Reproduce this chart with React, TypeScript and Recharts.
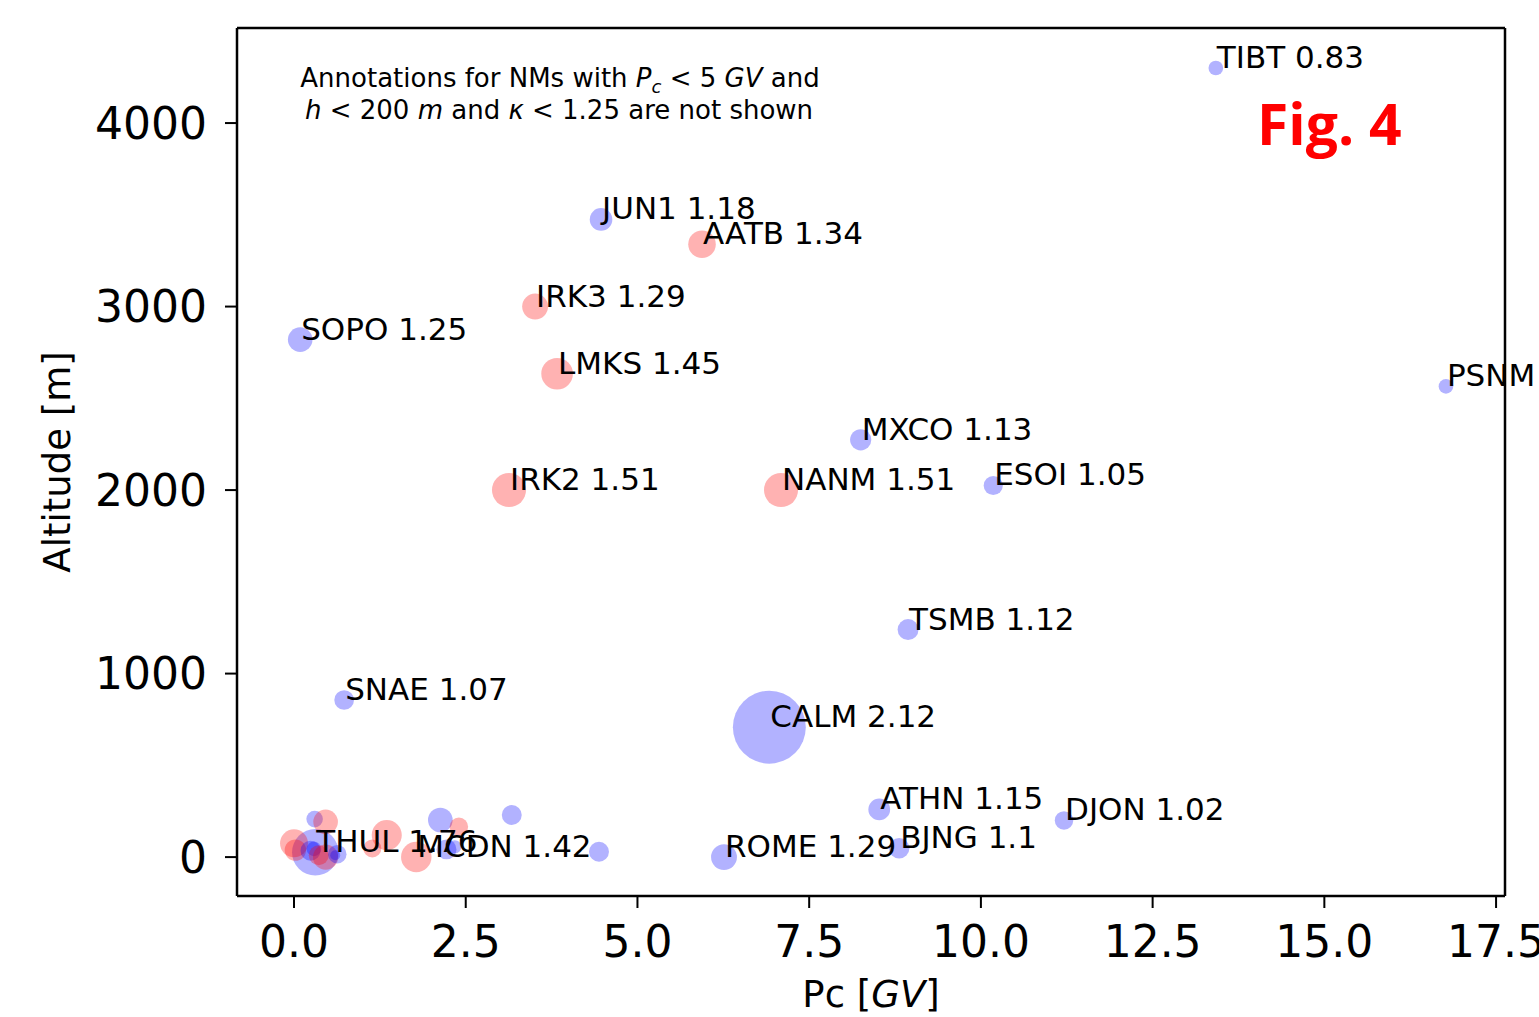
import React from "react";
import { ScatterChart, Scatter, XAxis, YAxis, ReferenceLine, Customized } from "recharts";

// Labelled neutron monitors: Pc [GV], altitude [m], kappa, marker group
const NAMES = ["TIBT", "JUN1", "AATB", "IRK3", "SOPO", "LMKS", "PSNM", "MXCO", "IRK2", "NANM",
  "ESOI", "TSMB", "SNAE", "CALM", "ATHN", "DJON", "ROME", "BJNG", "MCDN", "THUL"];
const PC = [13.42, 4.47, 5.94, 3.51, 0.09, 3.83, 16.77, 8.25, 3.13, 7.09,
  10.18, 8.94, 0.73, 6.92, 8.52, 11.21, 6.26, 8.81, 1.78, 0.31];
const ALT = [4300, 3475, 3340, 3000, 2820, 2634, 2565, 2274, 2000, 2000,
  2025, 1240, 856, 708, 260, 200, 0, 48, 0, 26];
const KAPPA = [0.83, 1.18, 1.34, 1.29, 1.25, 1.45, 0.83, 1.13, 1.51, 1.51,
  1.05, 1.12, 1.07, 2.12, 1.15, 1.02, 1.29, 1.1, 1.42, 1.76];
const GROUP = ["b", "b", "r", "r", "b", "r", "b", "b", "r", "r",
  "b", "b", "b", "b", "b", "b", "b", "b", "r", "b"];

// Un-annotated stations (low Pc / low altitude cluster)
const C_PC = [0.30, 0.46, 0.0, 0.02, 0.29, 0.24, 0.46, 0.36, 0.63, 0.60,
  1.14, 1.35, 2.13, 2.40, 2.22, 2.34, 3.17, 4.44];
const C_ALT = [207, 192, 75, 38, 45, 35, 0, 10, 16, 10,
  47, 120, 202, 165, 42, 56, 229, 29];
const C_KAPPA = [0.93, 1.25, 1.35, 1.14, 0.83, 1.08, 1.27, 1.08, 1.02, 0.53,
  1.0, 1.41, 1.25, 1.02, 1.08, 0.76, 1.08, 1.08];
const C_GROUP = ["b", "r", "r", "r", "b", "b", "r", "r", "b", "b",
  "r", "r", "b", "r", "b", "b", "b", "b"];

const X_TICKS = [0, 2.5, 5, 7.5, 10, 12.5, 15, 17.5];
const Y_TICKS = [0, 1000, 2000, 3000, 4000];
const X_DOMAIN = [-0.83, 17.63];
const Y_DOMAIN = [-212, 4518];

const FILL: Record<string, string> = { b: "#0000ff", r: "#ff0000" };
const FONT = "'DejaVu Sans', sans-serif";

// marker radius grows with kappa
const radius = (k: number) => 7.3 * Math.exp(1.247 * (k - 0.83));

interface Row {
  name?: string;
  pc: number;
  alt: number;
  kappa: number;
  group: string;
}

const labelled: Row[] = NAMES.map((name, i) => ({
  name, pc: PC[i], alt: ALT[i], kappa: KAPPA[i], group: GROUP[i],
}));
const cluster: Row[] = C_PC.map((pc, i) => ({
  pc, alt: C_ALT[i], kappa: C_KAPPA[i], group: C_GROUP[i],
}));
const allPoints = [...labelled, ...cluster];

const Dot = (props: any) => {
  const { cx, cy, payload } = props;
  return (
    <circle cx={cx} cy={cy} r={radius(payload.kappa)}
      fill={FILL[payload.group]} fillOpacity={0.3} stroke="none" />
  );
};

const NameLabel = (props: any) => {
  const { cx, cy, payload } = props;
  return (
    <text x={cx + 1} y={cy} fontSize={31} fontFamily={FONT} fill="#000">
      {`${payload.name} ${payload.kappa}`}
    </text>
  );
};

const Annotations = () => (
  <g fontFamily={FONT} fill="#000">
    <text x={560} y={87} fontSize={26} textAnchor="middle">
      Annotations for NMs with{" "}
      <tspan fontStyle="italic">P</tspan>
      <tspan fontStyle="italic" fontSize={18} dy={6}>c</tspan>
      <tspan dy={-6}>{" < 5 "}</tspan>
      <tspan fontStyle="italic">GV</tspan>
      {" and"}
    </text>
    <text x={559} y={119} fontSize={26} textAnchor="middle">
      <tspan fontStyle="italic">h</tspan>
      {" < 200 "}
      <tspan fontStyle="italic">m</tspan>
      {" and "}
      <tspan fontStyle="italic">κ</tspan>
      {" < 1.25 are not shown"}
    </text>
    <text x={1257} y={145} fontSize={57} fontWeight="bold" fill="#ff0000"
      fontFamily="'Open Sans', 'Liberation Sans', sans-serif">
      Fig. 4
    </text>
    <text x={871} y={1007} fontSize={37} textAnchor="middle">
      {"Pc ["}
      <tspan fontStyle="italic">GV</tspan>
      {"]"}
    </text>
    <text transform="translate(70, 462) rotate(-90)" fontSize={37} textAnchor="middle">
      Altitude [m]
    </text>
  </g>
);

const axisLine = { stroke: "#000", strokeWidth: 2.5 };
const tickLine = { stroke: "#000", strokeWidth: 2 };
const tickStyle = { fill: "#000", fontSize: 44, fontFamily: FONT };

export default function App() {
  return (
    <div style={{ position: "absolute", left: 0, top: 0, background: "#fff" }}>
      <ScatterChart width={1539} height={1017}
        margin={{ top: 28, right: 34, bottom: 0, left: 0 }}>
        <XAxis type="number" dataKey="pc" domain={X_DOMAIN} ticks={X_TICKS}
          height={121} tickSize={12} tickMargin={18}
          tickFormatter={(v: number) => v.toFixed(1)}
          axisLine={axisLine} tickLine={tickLine} tick={tickStyle} interval={0} />
        <YAxis type="number" dataKey="alt" domain={Y_DOMAIN} ticks={Y_TICKS}
          width={237} tickSize={12} tickMargin={18}
          axisLine={axisLine} tickLine={tickLine} tick={tickStyle} interval={0} />
        <ReferenceLine y={Y_DOMAIN[1]} stroke="#000" strokeWidth={2.5} />
        <ReferenceLine x={X_DOMAIN[1]} stroke="#000" strokeWidth={2.5} />
        <Scatter data={allPoints} dataKey="alt" shape={<Dot />} isAnimationActive={false} />
        <Scatter data={labelled} dataKey="alt" shape={<NameLabel />} isAnimationActive={false} />
        <Customized component={<Annotations />} />
      </ScatterChart>
    </div>
  );
}
